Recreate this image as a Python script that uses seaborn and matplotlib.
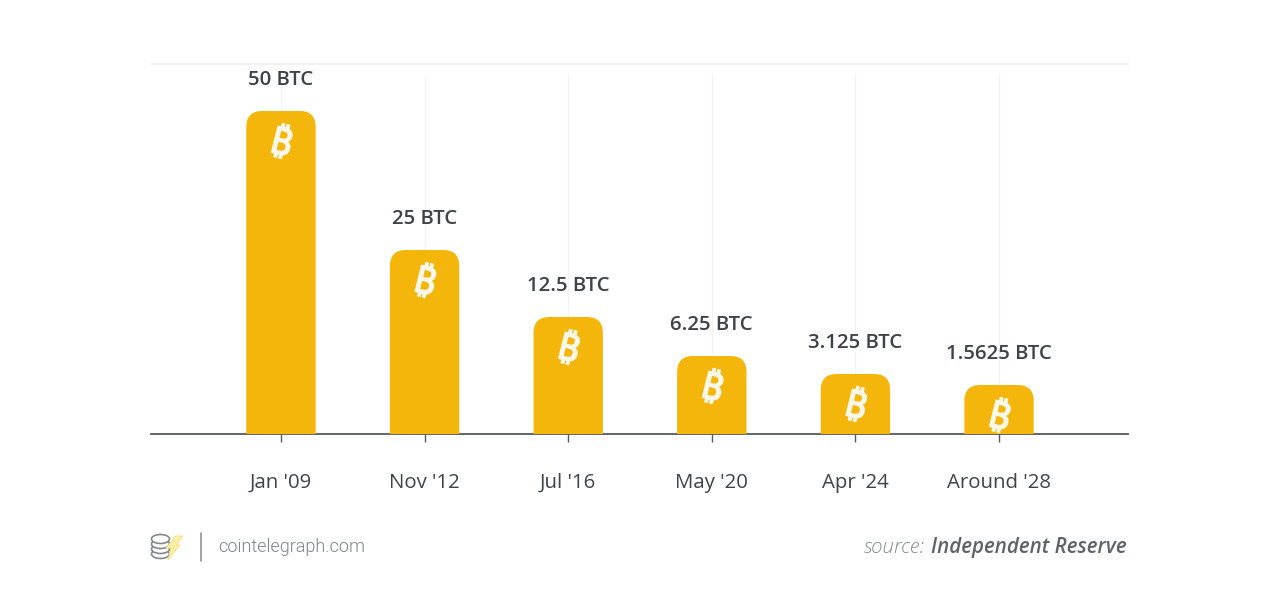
import matplotlib
matplotlib.use("Agg")
import matplotlib.pyplot as plt
from matplotlib import font_manager as fm
from matplotlib.ft2font import FT2Font
import matplotlib.patheffects as pe
import seaborn as sns
import pandas as pd
from matplotlib.path import Path
from matplotlib.patches import PathPatch, Ellipse, Polygon
from matplotlib.lines import Line2D

halvings = ["Jan '09", "Nov '12", "Jul '16", "May '20", "Apr '24", "Around '28"]
rewards = ["50 BTC", "25 BTC", "12.5 BTC", "6.25 BTC", "3.125 BTC", "1.5625 BTC"]
# Bars are not drawn to a linear BTC scale in the source: heights
bar_heights = [323, 184, 117, 78, 60, 49]

GOLD = "#F5B60B"
DARK = "#3F4347"
W, H = 1277, 594

sns.set_theme(style="whitegrid")
plt.rcParams["font.family"] = ["Open Sans", "DejaVu Sans"]


def family_with_glyph(code):
    """Return an installed family that has the glyph, or None."""
    found = []
    for entry in fm.fontManager.ttflist:
        try:
            if code in FT2Font(entry.fname).get_charmap():
                found.append(entry)
        except Exception:
            pass
    for pref in ["Noto Sans", "Inter", "Roboto", "Open Sans", "Lato", "DejaVu Sans", "Liberation Sans"]:
        if any(e.name == pref for e in found):
            return pref
    return found[0].name if found else None


btc_family = family_with_glyph(0x20BF)

fig = plt.figure(figsize=(W / 100, H / 100), dpi=100, facecolor="white")
ax = fig.add_axes([151 / W, 1 - 434 / H, (1128 - 151) / W, (434 - 64) / H])

df = pd.DataFrame({"halving": halvings, "height": bar_heights})
sns.barplot(data=df, x="halving", y="height", color=GOLD, saturation=1, width=0.483, ax=ax, zorder=3)

ax.set_xlim(-0.905, 5.898)
ax.set_ylim(0, 370)
ax.set_xlabel("")
ax.set_ylabel("")
ax.set_yticks([])

# Replace plain bars with top-rounded ones
rx, ry = 16 / 143.6, 16
for bar in list(ax.patches):
    x0, w, h = bar.get_x(), bar.get_width(), bar.get_height()
    x1 = x0 + w
    verts = [(x0, 0), (x0, h - ry), (x0, h), (x0 + rx, h), (x1 - rx, h), (x1, h), (x1, h - ry), (x1, 0), (x0, 0)]
    codes = [Path.MOVETO, Path.LINETO, Path.CURVE3, Path.CURVE3, Path.LINETO, Path.CURVE3, Path.CURVE3, Path.LINETO, Path.CLOSEPOLY]
    ax.add_patch(PathPatch(Path(verts, codes), facecolor=GOLD, edgecolor="none", zorder=3))
    bar.remove()

for i, (h, label) in enumerate(zip(bar_heights, rewards)):
    ax.annotate(label, (i, h), xytext=(0, 22.5), textcoords="offset points", ha="center", va="center",
                fontsize=14.7, fontweight=600, color=DARK, zorder=5, annotation_clip=False)
    ax.annotate("\u20bf" if btc_family else "B", (i, h), xytext=(0, -24), textcoords="offset points",
                ha="center", va="center", fontsize=27, fontweight="bold", color="#FFF8E8", rotation=-14,
                family=[btc_family or "DejaVu Sans", "DejaVu Sans"], zorder=5,
                path_effects=[pe.withStroke(linewidth=1.1, foreground="#FFF8E8")])

# Axes furniture
ax.grid(False)
ax.vlines(range(len(halvings)), 0, 359, color="#F3F3F3", linewidth=0.9, zorder=1)
for s in ["left", "right"]:
    ax.spines[s].set_visible(False)
ax.spines["top"].set_color("#F0F0F0")
ax.spines["top"].set_linewidth(1.2)
ax.spines["bottom"].set_color("#55595C")
ax.spines["bottom"].set_linewidth(1.3)
ax.tick_params(axis="x", length=5.5, width=1, color="#55595C", pad=22.6, labelsize=14.7, labelcolor=DARK, bottom=True)

# Footer, in pixel coordinates of the figure
def fx(px): return px / W
def fy(py): return 1 - py / H

fig.text(fx(218), fy(547), "cointelegraph.com", fontsize=13, family="Roboto", fontweight=300,
         color="#7F8487", va="center", ha="left")
fig.add_artist(Line2D([fx(201), fx(201)], [fy(533), fy(561)], color="#9A9DA0", lw=1.3))
for cy in [554, 549, 544, 539]:
    fig.add_artist(Ellipse((fx(160.5), fy(cy)), 18 / W, 9 / H, facecolor="white", edgecolor="#85888A", lw=1.2,
                           transform=fig.transFigure))
fig.add_artist(Polygon([(fx(176), fy(536)), (fx(183), fy(536)), (fx(176), fy(545)), (fx(180), fy(545)),
                        (fx(168), fy(560)), (fx(171), fy(548)), (fx(166), fy(548))], closed=True,
                       facecolor="#FBEFA8", edgecolor="#F4DF7C", lw=0.6, transform=fig.transFigure))

t = fig.text(fx(1127), fy(548), "Independent Reserve", fontsize=14.8, fontstyle="italic", fontweight=600,
             color="#5F6367", va="center", ha="right")
fig.canvas.draw()
bb = t.get_window_extent()
fig.text((bb.x0 - 6) / W, fy(548), "source:", fontsize=14.8, fontstyle="italic", fontweight=300,
         color="#85898C", va="center", ha="right")

fig.savefig("out.png", dpi=100, facecolor="white")
